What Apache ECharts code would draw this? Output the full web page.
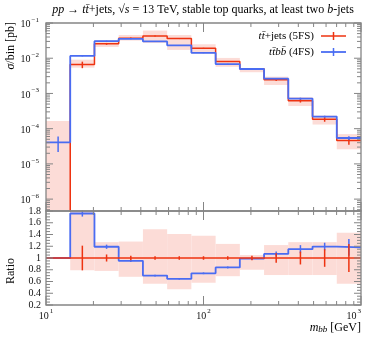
<!DOCTYPE html>
<html><head><meta charset="utf-8">
<script src="https://cdn.jsdelivr.net/npm/echarts@6/dist/echarts.min.js"></script>
<style>html,body{margin:0;padding:0;background:#fff}#c{width:374px;height:337px}</style>
</head><body><div id="c"></div>
<script>
// ---- data ----
const binEdges = [10, 14.25, 20.31, 28.94, 41.25, 58.78, 83.77, 119.4, 170.1, 242.4, 345.5, 492.4, 701.7, 1000];
const ttjets5FS = [1e-9, 6.6e-3, 2.56e-2, 3.7e-2, 4.28e-2, 3.61e-2, 1.92e-2, 8.1e-3, 5.0e-3, 2.45e-3, 6.2e-4, 1.85e-4, 4.6e-5];
const ttbb4FS  = [4.1e-5, 1.16e-2, 3.05e-2, 3.52e-2, 3.0e-2, 2.33e-2, 1.42e-2, 6.8e-3, 4.95e-3, 2.62e-3, 7.13e-4, 2.21e-4, 5.43e-5];
const ttjetsErrRel = [0, 0.21, 0.06, 0.04, 0.03, 0.03, 0.03, 0.03, 0.04, 0.08, 0.11, 0.15, 0.24];
const ttbbErrRel   = [0.47, 0.03, 0.03, 0.02, 0.02, 0.02, 0.02, 0.02, 0.02, 0.04, 0.06, 0.055, 0.12];
const bandLow  = [1e-9, 5.4e-3, 2.09e-2, 3.17e-2, 2.71e-2, 1.72e-2, 1.36e-2, 5.7e-3, 4.0e-3, 1.74e-3, 4.4e-4, 1.31e-4, 2.6e-5];
const bandHigh = [1.66e-4, 9.1e-3, 3.24e-2, 4.57e-2, 6.1e-2, 4.57e-2, 2.49e-2, 1.02e-2, 5.25e-3, 2.99e-3, 7.9e-4, 2.35e-4, 7.0e-5];
const ratioBandLow  = [null, 0.79, 0.78, 0.68, 0.56, 0.47, 0.58, 0.69, 0.80, 0.71, 0.71, 0.71, 0.56];
const ratioBandHigh = [null, 1.9, 1.27, 1.28, 1.49, 1.41, 1.38, 1.24, 1.05, 1.22, 1.27, 1.27, 1.43];
const xTickLabels = {10: '1', 100: '2', 1000: '3'};
const mainYExponents = [-6, -5, -4, -3, -2, -1];
const ratioTickLabels = ['0.2','0.4','0.6','0.8','1','1.2','1.4','1.6','1.8'];

// ---- helpers ----
const FONT = 'Liberation Serif';
const RED = '#ee3311', BLUE = '#4a6cf2', PINK = '#fcdcd7', AX = '#858585';
const n = ttjets5FS.length;
const stepPts = vals => binEdges.map((e, i) => [e, vals[Math.min(i, n - 1)]]);
const hasRef = ttjets5FS.map(v => v > 1e-8);
const ratioBlue = ttbb4FS.map((b, i) => hasRef[i] ? b / ttjets5FS[i] : 1);
const ratioRed = ttjets5FS.map(() => 1);
const ratioBlueErr = ttbbErrRel.map((r, i) => hasRef[i] ? r : 0);
const centers = binEdges.slice(0, n).map((e, i) => Math.sqrt(e * binEdges[i + 1]));

function bandSeries(xi, yi, lo, hi) {
  return {
    type: 'custom', xAxisIndex: xi, yAxisIndex: yi, z: 1, silent: true,
    data: centers.map((c, i) => [c, 1]),
    renderItem(params, api) {
      const i = params.dataIndex;
      if (lo[i] == null) return null;
      const cs = params.coordSys;
      const p1 = api.coord([binEdges[i], hi[i]]);
      const p2 = api.coord([binEdges[i + 1], lo[i]]);
      const r = echarts.graphic.clipRectByRect(
        {x: p1[0], y: p1[1], width: p2[0] - p1[0], height: p2[1] - p1[1]},
        {x: cs.x, y: cs.y, width: cs.width, height: cs.height});
      return r && {type: 'rect', shape: r, style: {fill: PINK}};
    }
  };
}
function errSeries(xi, yi, vals, rel, color, z) {
  return {
    type: 'custom', xAxisIndex: xi, yAxisIndex: yi, z: z, silent: true,
    data: centers.map((c, i) => [c, vals[i]]),
    renderItem(params, api) {
      const i = params.dataIndex;
      if (!rel[i]) return null;
      const a = api.coord([centers[i], vals[i] * (1 + rel[i])]);
      const b = api.coord([centers[i], vals[i] * (1 - rel[i])]);
      return {type: 'line', shape: {x1: a[0], y1: a[1], x2: b[0], y2: b[1]},
              style: {stroke: color, lineWidth: 1.5}};
    }
  };
}
function lineSeries(xi, yi, vals, color, width, z) {
  return {type: 'line', xAxisIndex: xi, yAxisIndex: yi, step: 'end', symbol: 'none', clip: true, z: z,
          data: stepPts(vals), lineStyle: {color: color, width: width}, silent: true};
}
const logMinor = [];
for (let e = -7; e <= 2; e++) for (let m = 2; m <= 9; m++) logMinor.push(m * Math.pow(10, e));
function frameSeries(xi, yi, yMajor, yMinor, refY) {
  return {
    type: 'custom', xAxisIndex: xi, yAxisIndex: yi, z: 10, silent: true,
    data: [[100, refY]],
    renderItem(params, api) {
      const cs = params.coordSys, x0 = cs.x, y0 = cs.y, x1 = cs.x + cs.width, y1 = cs.y + cs.height;
      const ch = [];
      const L = (a, b, c, d) => ch.push({type: 'line', shape: {x1: a, y1: b, x2: c, y2: d}, style: {stroke: AX, lineWidth: 1}});
      [10, 100, 1000].forEach(v => { const px = api.coord([v, refY])[0]; L(px, y0, px, y0 + 9); L(px, y1, px, y1 - 9); });
      logMinor.filter(v => v > 10 && v < 1000).forEach(v => { const px = api.coord([v, refY])[0]; L(px, y0, px, y0 + 4); L(px, y1, px, y1 - 4); });
      yMajor.forEach(v => { const py = api.coord([100, v])[1]; if (py < y0 - 0.5 || py > y1 + 0.5) return; L(x0, py, x0 + 7, py); L(x1, py, x1 - 7, py); });
      yMinor.forEach(v => { const py = api.coord([100, v])[1]; if (py < y0 - 0.5 || py > y1 + 0.5) return; L(x0, py, x0 + 4, py); L(x1, py, x1 - 4, py); });
      ch.push({type: 'rect', shape: {x: x0, y: y0, width: cs.width, height: cs.height}, style: {fill: null, stroke: AX, lineWidth: 1.3}});
      return {type: 'group', children: ch};
    }
  };
}
const ratioMajor = [], ratioMinor = [];
for (let k = 4; k <= 36; k++) (k % 4 === 0 ? ratioMajor : ratioMinor).push(k * 0.05);
const mainMajor = mainYExponents.map(e => Math.pow(10, e));

const supRich = {
  b: {fontFamily: FONT, fontSize: 10, color: '#111', lineHeight: 13, verticalAlign: 'bottom'},
  s: {fontFamily: FONT, fontSize: 7, color: '#111', lineHeight: 13, verticalAlign: 'top', padding: [0, 0, 0, 1]}
};
const mkRich = fs => ({
  n: {fontFamily: FONT, fontSize: fs, color: '#111'},
  i: {fontFamily: FONT, fontSize: fs, color: '#111', fontStyle: 'italic'},
  sub: {fontFamily: FONT, fontSize: fs - 3, color: '#111', fontStyle: 'italic', verticalAlign: 'bottom', lineHeight: 9}
});
const rich12 = mkRich(12), rich11 = mkRich(11);

const chart = echarts.init(document.getElementById('c'), null, {renderer: 'canvas'});
chart.setOption({
  animation: false,
  grid: [
    {left: 46, right: 13, top: 23, height: 188},
    {left: 46, right: 13, top: 211, height: 94}
  ],
  xAxis: [
    {type: 'log', gridIndex: 0, min: 10, max: 1000, axisLine: {show: false}, axisTick: {show: false}, axisLabel: {show: false}, splitLine: {show: false}},
    {type: 'log', gridIndex: 1, min: 10, max: 1000, axisLine: {show: false}, axisTick: {show: false}, splitLine: {show: false},
     axisLabel: {margin: 3, alignMaxLabel: 'right', rich: supRich,
       formatter: v => xTickLabels[Math.round(v)] ? '{b|10}{s|' + xTickLabels[Math.round(v)] + '}' : ''}}
  ],
  yAxis: [
    {type: 'log', gridIndex: 0, min: 4.6e-7, max: 0.1, axisLine: {show: false}, axisTick: {show: false}, splitLine: {show: false},
     axisLabel: {margin: 7, rich: supRich, showMinLabel: true,
       formatter: v => { const e = Math.log10(v), r = Math.round(e);
         return (Math.abs(e - r) < 1e-6 && mainYExponents.indexOf(r) >= 0) ? '{b|10}{s|\u2212' + Math.abs(r) + '}' : ''; }}},
    {type: 'value', gridIndex: 1, min: 0.2, max: 1.8, interval: 0.2, axisLine: {show: false}, axisTick: {show: false}, splitLine: {show: false},
     axisLabel: {margin: 5, fontFamily: FONT, fontSize: 10, color: '#111',
       formatter: (v, idx) => ratioTickLabels[idx] || ''}}
  ],
  graphic: [
    {type: 'text', x: 203, y: 10, style: {text: '{i|pp} \u2192 {i|tt\u0304}+jets, \u221a{i|s} = 13 TeV, stable top quarks, at least two {i|b}-jets', rich: rich12, align: 'center', verticalAlign: 'middle', fontFamily: FONT, fontSize: 12}},
    {type: 'text', x: 11, y: 22, rotation: Math.PI / 2, style: {text: '{i|\u03c3}/bin [pb]', rich: rich12, align: 'right', verticalAlign: 'middle', fontFamily: FONT, fontSize: 12}},
    {type: 'text', x: 11, y: 271, rotation: Math.PI / 2, style: {text: 'Ratio', rich: rich12, align: 'center', verticalAlign: 'middle', fontFamily: FONT, fontSize: 12, fill: '#111'}},
    {type: 'text', x: 361, y: 328, style: {text: '{i|m}{sub|bb} [GeV]', rich: rich12, align: 'right', verticalAlign: 'middle', fontFamily: FONT, fontSize: 12}},
    {type: 'text', x: 314, y: 36, style: {text: '{i|tt\u0304}+jets (5FS)', rich: rich11, align: 'right', verticalAlign: 'middle', fontFamily: FONT, fontSize: 11}},
    {type: 'text', x: 314, y: 52, style: {text: '{i|tt\u0304bb\u0304} (4FS)', rich: rich11, align: 'right', verticalAlign: 'middle', fontFamily: FONT, fontSize: 11}},
    {type: 'line', shape: {x1: 321, y1: 36, x2: 346, y2: 36}, style: {stroke: RED, lineWidth: 1.5}},
    {type: 'line', shape: {x1: 333.5, y1: 32, x2: 333.5, y2: 40}, style: {stroke: RED, lineWidth: 1.5}},
    {type: 'line', shape: {x1: 321, y1: 52, x2: 346, y2: 52}, style: {stroke: BLUE, lineWidth: 1.8}},
    {type: 'line', shape: {x1: 333.5, y1: 48, x2: 333.5, y2: 56}, style: {stroke: BLUE, lineWidth: 1.5}}
  ],
  series: [
    bandSeries(0, 0, bandLow, bandHigh),
    lineSeries(0, 0, ttjets5FS, RED, 1.5, 3),
    errSeries(0, 0, ttjets5FS, ttjetsErrRel, RED, 4),
    lineSeries(0, 0, ttbb4FS, BLUE, 1.8, 5),
    errSeries(0, 0, ttbb4FS, ttbbErrRel, BLUE, 6),
    frameSeries(0, 0, mainMajor, logMinor, 1e-3),
    bandSeries(1, 1, ratioBandLow, ratioBandHigh),
    lineSeries(1, 1, ratioBlue, BLUE, 1.8, 3),
    errSeries(1, 1, ratioBlue, ratioBlueErr, BLUE, 4),
    lineSeries(1, 1, ratioRed, RED, 1.5, 5),
    errSeries(1, 1, ratioRed, ttjetsErrRel, RED, 6),
    frameSeries(1, 1, ratioMajor, ratioMinor, 1)
  ]
});
</script></body></html>
